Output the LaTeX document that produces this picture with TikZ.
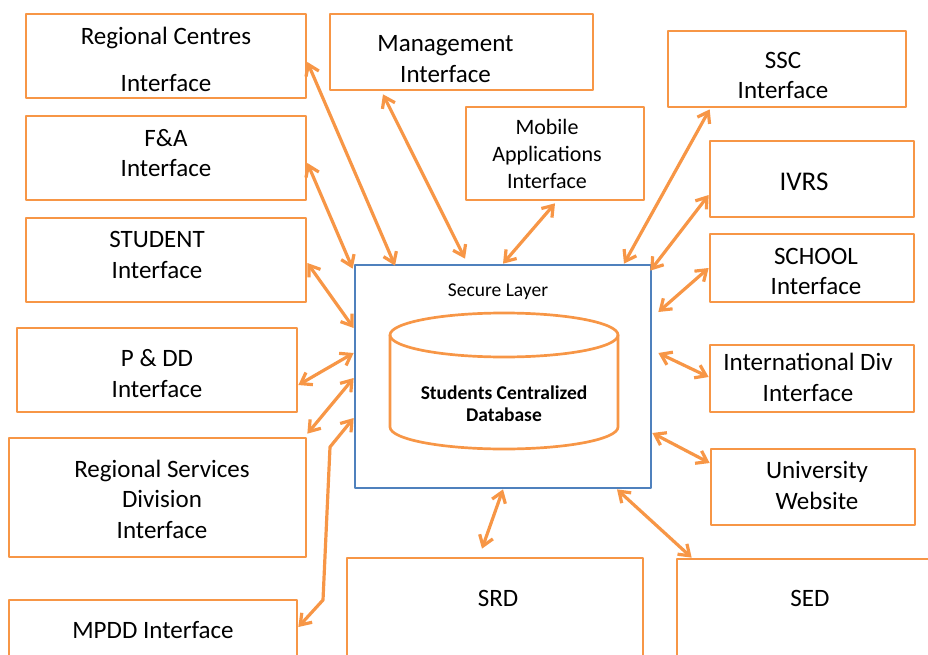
\documentclass[tikz,border=0pt]{standalone}
\usepackage{fontspec}
\setmainfont{Carlito}
\usetikzlibrary{arrows.meta}
\definecolor{cam}{HTML}{F79646}
\definecolor{xanh}{HTML}{4F81BD}
\begin{document}
\begin{tikzpicture}[x=1pt, y=-1pt, line join=round, line cap=round, >={Straight Barb[length=10pt,width=14pt]},
	hop/.style={draw=cam, line width=2.7pt, rectangle, inner sep=0pt},
	chu/.style={font=\fontsize{25}{30.5}\selectfont, align=center},
	muiten/.style={draw=cam, line width=3.2pt, <->}]
	\useasboundingbox (0,0) rectangle (928,655);
	% Cac hop giao dien ben trai
	\node[hop, minimum width=280, minimum height=84, label={[chu, yshift=-3.5]center:{Regional Centres\\[16.5pt]Interface}}] (rc) at (166,56) {};
	\node[hop, minimum width=280, minimum height=84, label={[chu, yshift=5]center:{F\&A\\Interface}}] (fa) at (166,158) {};
	\node[hop, minimum width=280, minimum height=84, label={[chu, yshift=5, xshift=-9]center:{STUDENT\\Interface}}] (st) at (166,260) {};
	\node[hop, minimum width=280, minimum height=84, label={[chu, yshift=-3.5]center:{P \& DD\\Interface}}] (pdd) at (157,370) {};
	\node[hop, minimum width=297, minimum height=119, label={[chu, yshift=-1.5, xshift=4.5]center:{Regional Services\\Division\\Interface}}] (rsd) at (157.5,497.5) {};
	\node[hop, minimum width=288, minimum height=84, label={[chu, yshift=12]center:{MPDD Interface}}] (mpdd) at (153,642) {};
	% Cac hop phia tren
	\node[hop, minimum width=263, minimum height=76, label={[chu, yshift=-7, xshift=-16]center:{Management\\Interface}}] (mg) at (461.5,52) {};
	\node[hop, minimum width=178, minimum height=93, label={[chu, font=\fontsize{22}{27}\selectfont, xshift=-8]center:{Mobile\\Applications\\Interface}}] (mob) at (555,153.5) {};
	% Cac hop ben phai
	\node[hop, minimum width=238, minimum height=76, label={[chu, yshift=-6.5, xshift=-4]center:{SSC\\Interface}}] (ssc) at (787,69) {};
	\node[hop, minimum width=204, minimum height=76, label={[chu, font=\fontsize{27}{30}\selectfont, yshift=-3, xshift=-8]center:{IVRS}}] (ivrs) at (812,179) {};
	\node[hop, minimum width=204, minimum height=68, label={[chu, yshift=-3.5, xshift=4]center:{SCHOOL\\Interface}}] (sch) at (812,268) {};
	\node[hop, minimum width=204, minimum height=67, label={[chu, yshift=1, xshift=-4]center:{International Div\\Interface}}] (intl) at (812,378.5) {};
	\node[hop, minimum width=204, minimum height=76, label={[chu, yshift=1.5, xshift=4]center:{University\\Website}}] (uni) at (813,487) {};
	% Cac hop phia duoi
	\node[hop, minimum width=296, minimum height=100, label={[chu, yshift=10, xshift=3]center:{SRD}}] (srd) at (495,608) {};
	\node[hop, minimum width=266, minimum height=100, label={[chu, yshift=11]center:{SED}}] (sed) at (810,609) {};
	% Lop bao mat va co so du lieu
	\node[draw=xanh, line width=2.7pt, minimum width=296, minimum height=223, inner sep=0pt] (sec) at (503,376.5) {};
	\node[font=\fontsize{19.5}{23}\selectfont] (sl) at (498,292) {Secure Layer};
	\def\rx{114} % ban kinh ngang
	\def\ry{22} % ban kinh doc
	\draw[cam, line width=2.7pt] (390,335) arc (180:-180:{\rx} and {\ry});
	\draw[cam, line width=2.7pt] (390,335)--(390,427) arc (180:0:{\rx} and {\ry})--(618,335);
	\node[font=\bfseries\fontsize{19.5}{22}\selectfont, align=center] (db) at (504,404) {Students Centralized\\Database};
	% Cac mui ten hai chieu
	\draw[muiten] ([yshift=-6]rc.east) -- ([xshift=-108, yshift=-2]sec.north);
	\draw[muiten] ([yshift=-5]fa.east) -- ([yshift=-5, xshift=-1]sec.north west);
	\draw[muiten] ([xshift=-78.5, yshift=-3]mg.south) -- ([xshift=-38, yshift=5]sec.north);
	\draw[muiten] ([yshift=-3]st.east) -- ([yshift=48.5]sec.west);
	\draw[muiten] ([yshift=-15]pdd.east) -- ([yshift=23.5]sec.west);
	\draw[muiten] ([yshift=3]rsd.north east) -- ([yshift=-1.5]sec.west);
	\coordinate (g1) at (330,447);
	\coordinate (g2) at (323,600);
	\draw[muiten] ([yshift=-41.5]sec.west) -- (g1) -- (g2) -- ([yshift=15]mpdd.east);
	\draw[muiten] ([yshift=-2]mob.south) -- (sec.north);
	\draw[muiten] ([xshift=43, yshift=-1]ssc.south west) -- ([xshift=121]sec.north);
	\draw[muiten] ([yshift=-16]ivrs.west) -- ([yshift=-7, xshift=-2]sec.north east);
	\draw[muiten] (sch.west) -- ([xshift=6, yshift=64.5]sec.east);
	\draw[muiten] ([xshift=6, yshift=23.5]sec.east) -- ([yshift=1.5]intl.west);
	\draw[muiten] ([yshift=-56.5]sec.east) -- ([yshift=24]uni.west);
	\draw[muiten] (sec.south) -- ([xshift=-13, yshift=8]srd.north);
	\draw[muiten] ([xshift=114]sec.south) -- ([xshift=16]sed.north west);
\end{tikzpicture}
\end{document}
